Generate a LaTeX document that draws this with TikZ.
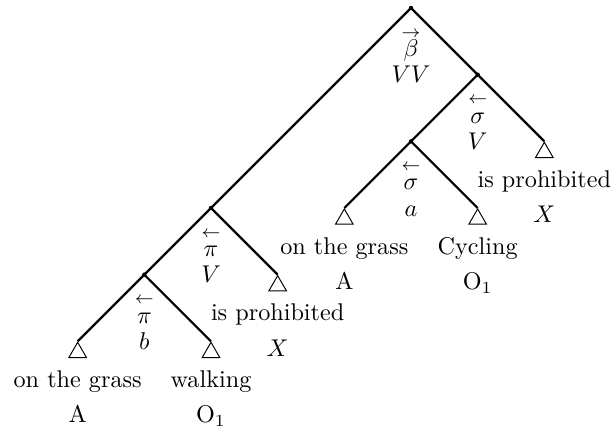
\documentclass[tikz,border=0pt]{standalone}
\usepackage{amsmath,amssymb}
\usetikzlibrary{positioning,shapes.geometric}

\begin{document}
\begin{tikzpicture}[x=27.55pt, y=27.55pt,
    dot/.style={circle, fill=black, inner sep=0pt, minimum size=1.8pt},
    leaf/.style={draw, thin, regular polygon, regular polygon sides=3,
      inner sep=0pt, minimum size=8.4pt, anchor=corner 1},
    ramo/.style={line width=0.9pt},
    regra/.style={align=center, inner sep=0pt},
    folha/.style={align=center, inner sep=0pt}]
      \useasboundingbox (-6.165,0.12) rectangle (3.015,-6.33);
      % Nos internos da arvore
      \node[dot] (r) at (0,0) {};
      \node[dot] (s) at (1,-1) {};
      \node[dot] (u) at (0,-2) {};
      \node[dot] (p1) at (-3,-3) {};
      \node[dot] (p2) at (-4,-4) {};
      % Folhas (triangulos)
      \node[leaf] (t1) at (2,-2) {};
      \node[leaf] (t2) at (-1,-3) {};
      \node[leaf] (t3) at (1,-3) {};
      \node[leaf] (t4) at (-2,-4) {};
      \node[leaf] (t5) at (-5,-5) {};
      \node[leaf] (t6) at (-3,-5) {};
      % Ramos
      \draw[ramo] (r.center) -- (s.center) -- (t1.corner 1);
      \draw[ramo] (s.center) -- (u.center) -- (t2.corner 1);
      \draw[ramo] (u.center) -- (t3.corner 1);
      \draw[ramo] (r.center) -- (p1.center) -- (p2.center) -- (t5.corner 1);
      \draw[ramo] (p1.center) -- (t4.corner 1);
      \draw[ramo] (p2.center) -- (t6.corner 1);
      % Regras sob cada no (seta, operador, categoria)
      \node[regra, below=8pt of r]
        {$\scriptstyle\rightarrow$\\[-4pt]$\beta$\\[-1pt]$VV$};
      \node[regra, below=8pt of s]
        {$\scriptstyle\leftarrow$\\[-4pt]$\sigma$\\[-1pt]$V$};
      \node[regra, below=8pt of u]
        {$\scriptstyle\leftarrow$\\[-4pt]$\sigma$\\[-1pt]$a$};
      \node[regra, below=8pt of p1]
        {$\scriptstyle\leftarrow$\\[-4pt]$\pi$\\[-1pt]$V$};
      \node[regra, below=8pt of p2]
        {$\scriptstyle\leftarrow$\\[-4pt]$\pi$\\[-1pt]$b$};
      % Rotulos das folhas
      \node[folha, below=5pt of t1] {is prohibited\\[2.6pt]$X$};
      \node[folha, below=5pt of t2] {on the grass\\[2.6pt]A};
      \node[folha, below=5pt of t3] {Cycling\\[2.6pt]O$_1$};
      \node[folha, below=5pt of t4] {is prohibited\\[2.6pt]$X$};
      \node[folha, below=5pt of t5] {on the grass\\[2.6pt]A};
      \node[folha, below=5pt of t6] {walking\\[2.6pt]O$_1$};
    \end{tikzpicture}
\end{document}
